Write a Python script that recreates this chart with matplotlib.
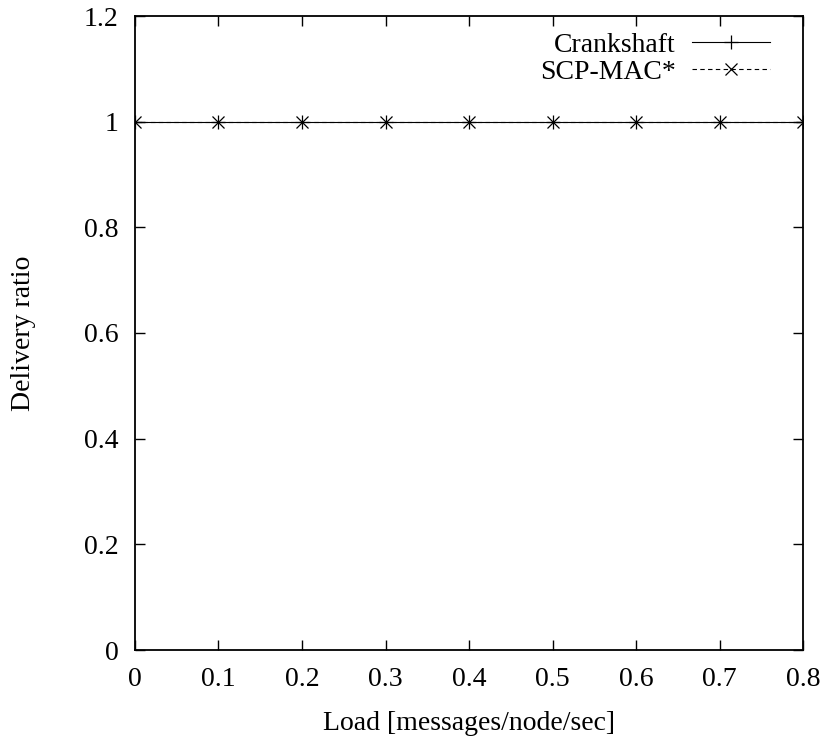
import numpy as np
import matplotlib
matplotlib.use('Agg')
import matplotlib.pyplot as plt

plt.rcParams['font.family'] = ['Liberation Serif', 'DejaVu Serif']
plt.rcParams['font.size'] = 20

# ========== data ==========
load = [0.0, 0.1, 0.2, 0.3, 0.4, 0.5, 0.6, 0.7, 0.8]
crankshaft = [1.0, 1.0, 1.0, 1.0, 1.0, 1.0, 1.0, 1.0, 1.0]
scp_mac = [1.0, 1.0, 1.0, 1.0, 1.0, 1.0, 1.0, 1.0, 1.0]
x_ticks = [0.0, 0.1, 0.2, 0.3, 0.4, 0.5, 0.6, 0.7, 0.8]
y_ticks = [0.0, 0.2, 0.4, 0.6, 0.8, 1.0, 1.2]

fig = plt.figure(figsize=(8.28, 7.41), dpi=100)
ax = fig.add_axes([135/828, 91/741, 668/828, 634/741])

ax.plot(load, crankshaft, '-', color='black', linewidth=0.8,
        marker='+', markersize=10, markeredgewidth=0.9, label='Crankshaft')
ax.plot(load, scp_mac, '--', color='black', linewidth=0.8, dashes=(4, 3),
        marker='x', markersize=8, markeredgewidth=0.9, label='SCP-MAC*')

ax.set_xlim(0, 0.8)
ax.set_ylim(0, 1.2)
ax.set_xticks(x_ticks)
ax.set_yticks(y_ticks)
ax.set_xticklabels(['%g' % v for v in x_ticks])
ax.set_yticklabels(['%g' % v for v in y_ticks])
ax.tick_params(direction='in', length=7, width=1, top=True, right=True, pad=12)
for s in ax.spines.values():
    s.set_linewidth(1.3)

ax.set_xlabel('Load [messages/node/sec]', labelpad=14)
ax.set_ylabel('Delivery ratio', labelpad=34)

ax.legend(loc='upper right', frameon=False, markerfirst=False,
          handlelength=2.8, handletextpad=0.6, labelspacing=0.05,
          borderaxespad=0.3, numpoints=1, bbox_to_anchor=(0.98, 1.005))

fig.savefig('out.png', dpi=100)
